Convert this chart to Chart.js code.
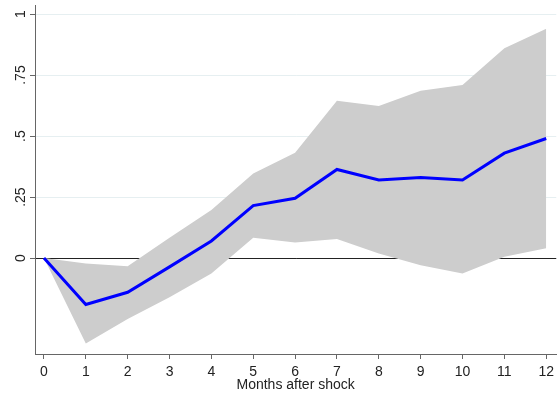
<!DOCTYPE html>
<html>
<head>
<meta charset="utf-8">
<script src="https://cdn.jsdelivr.net/npm/chart.js@4/dist/chart.umd.min.js"></script>
<style>
  html, body { margin: 0; padding: 0; background: #fff; }
  #wrap { width: 559px; height: 400px; }
</style>
</head>
<body>
<div id="wrap"><canvas id="irf"></canvas></div>
<script>
// impulse response, months 0..12
const months = [0, 1, 2, 3, 4, 5, 6, 7, 8, 9, 10, 11, 12];
const response = [0, -0.19, -0.14, -0.036, 0.07, 0.215, 0.245, 0.363, 0.32, 0.33, 0.32, 0.43, 0.49];
const upperBand = [0, -0.022, -0.033, 0.083, 0.197, 0.347, 0.432, 0.645, 0.623, 0.686, 0.709, 0.86, 0.94];
const lowerBand = [0, -0.35, -0.25, -0.16, -0.063, 0.083, 0.064, 0.078, 0.019, -0.029, -0.063, 0.005, 0.04];
const yTicks = [0, 0.25, 0.5, 0.75, 1];
const yTickLabels = ['0', '.25', '.5', '.75', '1'];

const pts = arr => months.map((m, i) => ({ x: m, y: arr[i] }));
const FONT = '"Liberation Sans", Arial, sans-serif';

// stata-style rotated labels on the y axis
const rotatedYLabels = {
    id: 'rotatedYLabels',
    afterDraw(chart) {
        const ctx = chart.ctx;
        const y = chart.scales.y;
        ctx.save();
        ctx.fillStyle = '#222';
        ctx.font = '14px ' + FONT;
        ctx.textAlign = 'center';
        ctx.textBaseline = 'middle';
        yTicks.forEach((v, i) => {
            const py = y.getPixelForValue(v);
            ctx.save();
            ctx.translate(21, py);
            ctx.rotate(-Math.PI / 2);
            ctx.fillText(yTickLabels[i], 0, 0);
            ctx.restore();
        });
        ctx.restore();
    }
};

new Chart(document.getElementById('irf'), {
    type: 'line',
    data: {
        datasets: [
            {
                label: 'upper',
                data: pts(upperBand),
                borderWidth: 0,
                pointRadius: 0,
                backgroundColor: '#cdcdcd',
                fill: '+1',
                order: 2
            },
            {
                label: 'lower',
                data: pts(lowerBand),
                borderWidth: 0,
                pointRadius: 0,
                backgroundColor: '#cdcdcd',
                fill: false,
                order: 2
            },
            {
                label: 'irf',
                data: pts(response),
                borderColor: '#0000ff',
                borderWidth: 3,
                pointRadius: 0,
                fill: false,
                order: 1
            }
        ]
    },
    options: {
        responsive: true,
        maintainAspectRatio: false,
        animation: false,
        layout: { padding: { top: 5, right: 0, left: 0, bottom: 0 } },
        plugins: {
            legend: { display: false },
            tooltip: { enabled: false },
            filler: { propagate: false }
        },
        scales: {
            x: {
                type: 'linear',
                min: -0.214,
                max: 12.24,
                afterBuildTicks: s => { s.ticks = months.map(v => ({ value: v })); },
                afterFit: s => { s.height = 46; },
                border: { color: '#666', width: 1 },
                grid: {
                    drawOnChartArea: false,
                    drawTicks: true,
                    tickLength: 5,
                    tickColor: '#666'
                },
                ticks: {
                    color: '#222',
                    font: { family: FONT, size: 14 },
                    padding: 5,
                    maxRotation: 0,
                    autoSkip: false
                },
                title: {
                    display: true,
                    text: 'Months after shock',
                    color: '#222',
                    font: { family: FONT, size: 14 },
                    padding: { top: 0, bottom: 6 }
                }
            },
            y: {
                type: 'linear',
                min: -0.393,
                max: 1.037,
                afterBuildTicks: s => { s.ticks = yTicks.map(v => ({ value: v })); },
                afterFit: s => { s.width = 35; },
                border: { color: '#666', width: 1 },
                grid: {
                    drawTicks: true,
                    tickLength: 5,
                    tickColor: '#666',
                    color: c => (c.tick && c.tick.value === 0) ? '#222' : '#e6eff1',
                    lineWidth: 1
                },
                ticks: { display: false }
            }
        }
    },
    plugins: [rotatedYLabels]
});
</script>
</body>
</html>
